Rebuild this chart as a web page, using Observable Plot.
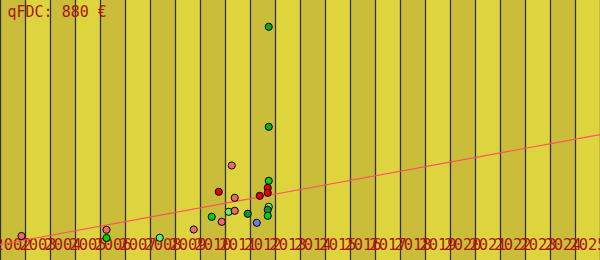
<!DOCTYPE html>
<html>
<head>
<meta charset="utf-8">
<script src="https://cdn.jsdelivr.net/npm/d3@7"></script>
<script src="https://cdn.jsdelivr.net/npm/@observablehq/plot@0.6"></script>
<style>
  html, body { margin: 0; padding: 0; background: #ded43e; }
  #chart svg { display: block; }
</style>
</head>
<body>
<div id="chart"></div>
<script>
// ---- data ----
const title = "qFDC: 880 €";
const yearLabels = d3.range(2002, 2026);          // one band per year
const yearBoundaries = d3.range(2002, 2027);

const pointYears = [2002.84, 2006.24, 2006.24, 2008.37, 2009.73, 2011.25, 2010.73, 2011.37,
                    2012.73, 2012.69, 2012.69, 2012.37, 2010.45, 2011.13, 2011.37, 2011.89,
                    2012.73, 2012.69, 2012.69, 2012.25, 2010.85, 2012.73, 2012.73];
const pointValues = [24.5, 30.7, 22.5, 22.7, 31.0, 95.0, 68.7, 62.7,
                     79.7, 72.7, 67.7, 64.7, 43.7, 48.7, 49.7, 46.7,
                     53.7, 50.7, 44.7, 37.7, 38.7, 233.7, 133.7];
const pointGroups = ["a", "a", "c", "d", "a", "a", "b", "a",
                     "c", "b", "b", "b", "c", "d", "a", "e",
                     "d", "e", "c", "f", "a", "g", "g"];

const trendYears = [2002, 2026];
const trendValues = [16, 126];

// ---- styles ----
const groupColors = {a: "#ef6b6b", b: "#e80000", c: "#00d400", d: "#66ee66", e: "#169526", f: "#6a78ee", g: "#0aa822"};
const bandDark = "#c9bd39", bandLight = "#ded43e";
const textRed = "#ad1414";
const mono = "DejaVu Sans Mono, monospace";

const points = pointYears.map((x, i) => ({x, y: pointValues[i], g: pointGroups[i]}));
const trend = trendYears.map((x, i) => ({x, y: trendValues[i]}));

const chart = Plot.plot({
  width: 600,
  height: 260,
  margin: 0,
  style: {background: bandLight, overflow: "hidden"},
  x: {type: "linear", domain: [2002, 2026], axis: null},
  y: {domain: [0, 260], axis: null},
  marks: [
    Plot.rect(yearLabels.filter((d, i) => i % 2 === 0), {x1: d => d, x2: d => d + 1, fill: bandDark}),
    Plot.rect(yearLabels.filter((d, i) => i % 2 === 1), {x1: d => d, x2: d => d + 1, fill: bandLight}),
    Plot.ruleX(yearBoundaries, {stroke: "#33333f", strokeWidth: 1.3}),
    Plot.text(yearLabels, {x: d => d + 0.5, frameAnchor: "bottom", dy: -10.5, text: d => String(d),
      fill: textRed, fontFamily: mono, fontSize: 15.5}),
    Plot.line(trend, {x: "x", y: "y", stroke: "#ff4f64", strokeWidth: 1.1}),
    Plot.dot(points, {x: "x", y: "y", r: 3.6, fill: d => groupColors[d.g], stroke: "#000", strokeWidth: 1}),
    Plot.text([title], {frameAnchor: "top-left", dx: 7, dy: 6, text: d => d, fill: textRed,
      fontFamily: mono, fontSize: 15, textAnchor: "start"})
  ]
});
document.getElementById("chart").appendChild(chart);
</script>
</body>
</html>
